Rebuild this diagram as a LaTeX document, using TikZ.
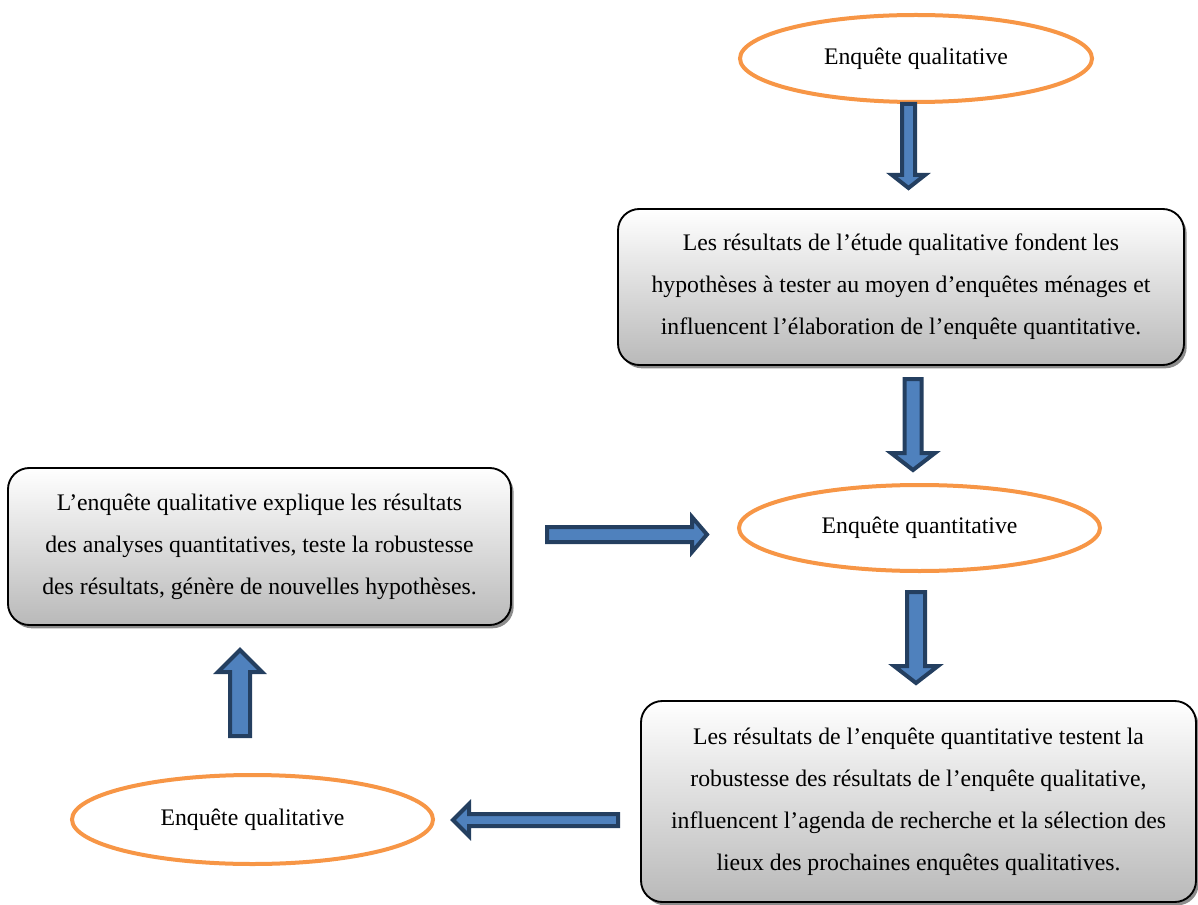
\documentclass[tikz,border=0pt]{standalone}
\usepackage{fontspec}
\setmainfont{Liberation Serif}
\usetikzlibrary{shapes.geometric,shadows}
\definecolor{eorange}{HTML}{F79646}
\definecolor{afill}{HTML}{4F81BD}
\definecolor{aborder}{HTML}{243F60}
\definecolor{aborderb}{HTML}{385D8A}
\definecolor{boxbot}{HTML}{B9B9B9}
\tikzset{
  txt/.style={font=\fontsize{17.8pt}{31.5pt}\selectfont},
  oval/.style={ellipse, draw=eorange, line width=3pt, fill=white, inner sep=0pt, txt},
  roundbox/.style={rectangle, rounded corners=16pt, draw=black, line width=1.4pt,
    top color=white, bottom color=boxbot, align=center, txt,
    drop shadow={shadow xshift=2pt, shadow yshift=-2.5pt, fill=black, opacity=0.45}},
  barrowstyle/.style={draw=aborder, fill=afill, line width=3pt, line join=miter},
  pics/barrow/.style n args={4}{code={
    \draw[barrowstyle, pic actions] (0,-#2) -- ({#1-#4},-#2) -- ({#1-#4},-#3) -- (#1,0)
      -- ({#1-#4},#3) -- ({#1-#4},#2) -- (0,#2) -- cycle;
  }}
}
\begin{document}
\begin{tikzpicture}[x=0.75pt,y=-0.75pt]
\useasboundingbox (0,0) rectangle (1198,905);

% ellipses
\node[oval, minimum width=264pt, minimum height=65.25pt] (q1) at (916,58.5) {Enquête qualitative};
\node[oval, minimum width=270.75pt, minimum height=64.5pt] (qn) at (919.5,528) {Enquête quantitative};
\node[oval, minimum width=270.75pt, minimum height=66.75pt] (q2) at (252.5,819.5) {Enquête qualitative};

% boxes
\node[roundbox, minimum width=424.5pt, minimum height=117pt] (b1) at (901,287)
  {Les résultats de l’étude qualitative fondent les\\
   hypothèses à tester au moyen d’enquêtes ménages et\\
   influencent l’élaboration de l’enquête quantitative.};
\node[roundbox, minimum width=416.25pt, minimum height=150.75pt] (b2) at (918.5,801.5)
  {Les résultats de l’enquête quantitative testent la\\
   robustesse des résultats de l’enquête qualitative,\\
   influencent l’agenda de recherche et la sélection des\\
   lieux des prochaines enquêtes qualitatives.};
\node[roundbox, minimum width=377.25pt, minimum height=117.75pt] (b3) at (259.5,546.5)
  {L’enquête qualitative explique les résultats\\
   des analyses quantitatives, teste la robustesse\\
   des résultats, génère de nouvelles hypothèses.};

% block arrows
\pic[rotate=-90] at (908.5,104) {barrow={84}{6.5}{16.5}{13}};
\pic[rotate=-90] at (913,379) {barrow={91}{8.5}{22}{17}};
\pic[rotate=-90, draw=aborderb] at (916,592) {barrow={91}{9}{22}{17}};
\pic at (547,534.5) {barrow={160}{7.5}{17.5}{15}};
\pic[rotate=180] at (618,820) {barrow={165}{6}{16}{16}};
\pic[rotate=90] at (240,736) {barrow={86}{10}{22}{22}};
\end{tikzpicture}
\end{document}
